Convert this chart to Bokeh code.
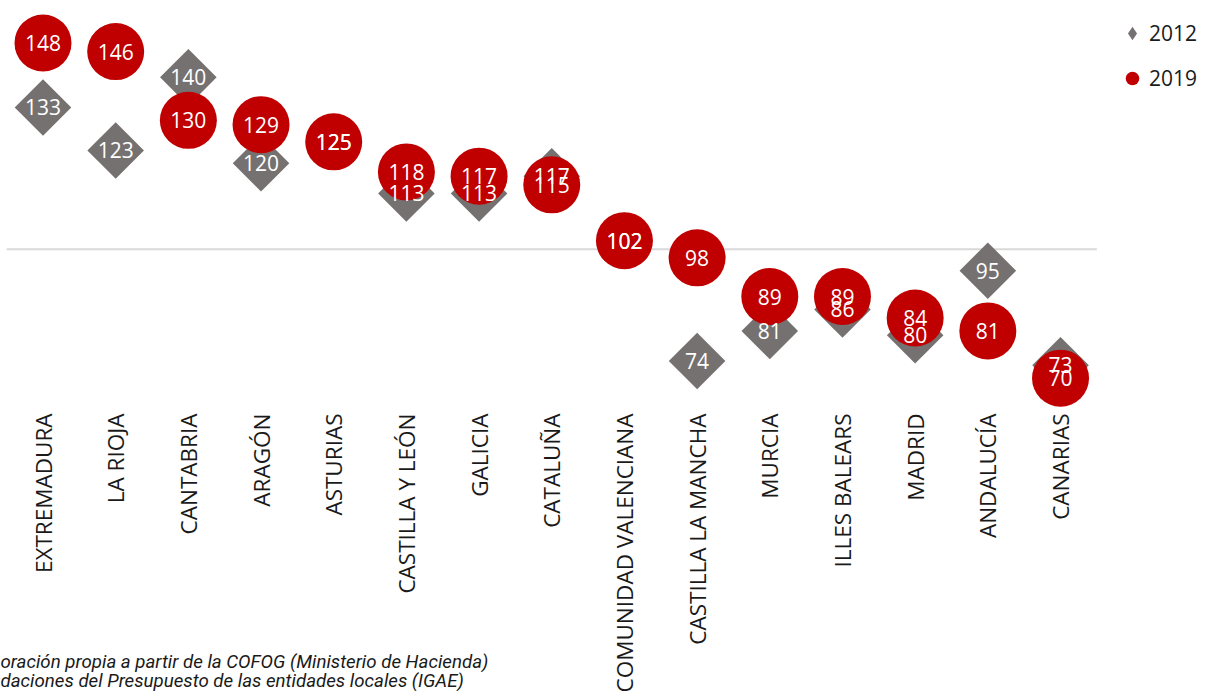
import math
from bokeh.plotting import figure
from bokeh.models import ColumnDataSource, Range1d, Legend, LegendItem, Label
from bokeh.core.properties import value
from bokeh.embed import file_html
from bokeh.resources import INLINE

regions = ["EXTREMADURA", "LA RIOJA", "CANTABRIA", "ARAGÓN", "ASTURIAS",
           "CASTILLA Y LEÓN", "GALICIA", "CATALUÑA", "COMUNIDAD VALENCIANA",
           "CASTILLA LA MANCHA", "MURCIA", "ILLES BALEARS", "MADRID",
           "ANDALUCÍA", "CANARIAS"]
v2012 = [133, 123, 140, 120, 125, 113, 113, 117, 102, 74, 81, 86, 80, 95, 73]
v2019 = [148, 146, 130, 129, 125, 118, 117, 115, 102, 98, 89, 89, 84, 81, 70]
series_names = ["2012", "2019"]
reference_value = 100
source_lines = ["oración propia a partir de la COFOG (Ministerio de Hacienda)",
                "daciones del Presupuesto de las entidades locales (IGAE)"]

RED = "#C00000"
GRAY = "#767171"
FONT = "Open Sans"
TXT = "#1a1a1a"

n = len(regions)
idx = list(range(n))
src = ColumnDataSource(data=dict(
    x=idx, y12=v2012, y19=v2019,
    t12=[str(v) for v in v2012], t19=[str(v) for v in v2019],
    name=regions,
))

W, H = 1211, 691
PX_PER_CAT = 72.68
X_LEFT_PX = 42.5          # screen position of the first category centre
PX_PER_UNIT = 4.297
Y_TOP = 157.89
x_start = -X_LEFT_PX / PX_PER_CAT
y_bottom = Y_TOP - H / PX_PER_UNIT

p = figure(x_range=Range1d(x_start, x_start + W / PX_PER_CAT),
           y_range=Range1d(y_bottom, Y_TOP),
           width=W, height=H,
           output_backend="svg", toolbar_location=None,
           x_axis_location=None, y_axis_location=None,
           min_border_left=0, min_border_top=0, min_border_bottom=0,
           min_border_right=0)
p.outline_line_color = None
p.grid.visible = False
p.background_fill_color = "white"
p.border_fill_color = "white"

# reference line at 100 spanning the category area
p.line(x=[-0.5, n - 0.5], y=[reference_value, reference_value],
       line_color="#d9d9d9", line_width=2)

r12 = p.scatter(x="x", y="y12", source=src, marker="square", size=40,
                angle=math.pi / 4, fill_color=GRAY, line_color=None)
r19 = p.scatter(x="x", y="y19", source=src, marker="circle", size=57,
                fill_color=RED, line_color=None)

for col, ycol in (("t12", "y12"), ("t19", "y19")):
    p.text(x="x", y=ycol, text=col, source=src,
           text_align="center", text_baseline="middle",
           text_color="white", text_font=value(FONT),
           text_font_size="21px")

# category labels, rotated, hanging below the plotted area
p.text(x="x", y=y_bottom, text="name", source=src, angle=math.pi / 2,
       y_offset=-(H - 413), text_align="right", text_baseline="middle",
       text_color=TXT, text_font=value(FONT), text_font_size="22.5px")

# legend-only glyphs
nan = float("nan")
lg12 = p.scatter(x=[nan], y=[nan], marker="diamond", fill_color=GRAY, line_color=None)
lg19 = p.scatter(x=[nan], y=[nan], marker="circle", fill_color=RED, line_color=None)

legend = Legend(items=[LegendItem(label=series_names[0], renderers=[lg12]),
                       LegendItem(label=series_names[1], renderers=[lg19])],
                location=(1115, H - 95), margin=0, padding=0,
                glyph_width=34, glyph_height=34, spacing=11,
                label_standoff=0, border_line_color=None,
                background_fill_alpha=0,
                label_text_font=FONT, label_text_font_size="21px",
                label_text_color=TXT)
p.add_layout(legend)

for i, line in enumerate(source_lines):
    p.add_layout(Label(x=0, y=30 - 19 * i, x_units="screen", y_units="screen",
                       text=line, text_font="Roboto",
                       text_font_style="italic", text_font_size="18.7px",
                       text_color=TXT, text_baseline="middle"))

open("out.html", "w").write(file_html(p, INLINE))
